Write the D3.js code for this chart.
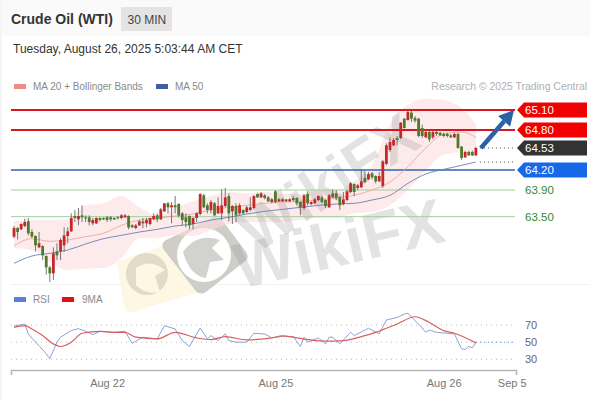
<!DOCTYPE html>
<html><head><meta charset="utf-8">
<script src="https://cdn.jsdelivr.net/npm/d3@7"></script>
<style>html,body{margin:0;padding:0;background:#fff}svg{display:block;font-family:"Liberation Sans",Arial,sans-serif}</style>
</head><body><div id="c"></div>
<script>
const opens=[63.20,63.33,63.31,63.36,63.43,63.27,63.21,63.04,63.06,62.91,62.74,62.65,62.98,62.98,63.07,63.21,63.28,63.51,63.46,63.52,63.49,63.49,63.40,63.40,63.48,63.48,63.49,63.49,63.48,63.49,63.48,63.49,63.51,63.37,63.33,63.37,63.43,63.40,63.39,63.46,63.52,63.46,63.58,63.70,63.64,63.67,63.69,63.55,63.49,63.51,63.39,63.48,63.54,63.82,63.67,63.60,63.70,63.55,63.55,63.66,63.81,63.58,63.66,63.55,63.60,63.57,63.60,63.63,63.84,63.79,63.82,63.79,63.72,63.88,63.73,63.73,63.76,63.73,63.78,63.78,63.72,63.63,63.84,63.69,63.70,63.75,63.79,63.75,63.64,63.85,63.85,63.79,63.69,63.75,63.87,63.99,63.93,63.94,64.08,64.06,64.15,64.11,64.03,63.96,64.29,64.50,64.57,64.68,64.68,64.97,64.95,65.06,64.98,64.97,64.83,64.69,64.77,64.69,64.77,64.76,64.74,64.74,64.72,64.69,64.74,64.55,64.39,64.47,64.47,64.42];
const closes=[63.33,63.27,63.39,63.42,63.25,63.20,63.07,63.10,62.92,62.74,62.65,62.95,62.92,63.15,63.22,63.28,63.48,63.48,63.51,63.49,63.48,63.42,63.45,63.48,63.45,63.46,63.45,63.46,63.46,63.48,63.52,63.52,63.34,63.34,63.37,63.43,63.40,63.45,63.48,63.51,63.46,63.61,63.70,63.64,63.67,63.64,63.52,63.45,63.42,63.37,63.48,63.55,63.84,63.64,63.60,63.72,63.52,63.66,63.67,63.79,63.55,63.66,63.52,63.67,63.55,63.64,63.64,63.81,63.79,63.85,63.78,63.73,63.76,63.72,63.76,63.76,63.73,63.76,63.75,63.70,63.64,63.82,63.70,63.72,63.76,63.81,63.72,63.66,63.82,63.79,63.78,63.67,63.76,63.88,64.00,63.87,63.97,64.03,64.02,64.14,64.09,64.03,64.11,64.33,64.57,64.62,64.65,64.65,64.91,64.83,65.07,64.97,64.94,64.71,64.71,64.77,64.66,64.77,64.74,64.72,64.71,64.71,64.69,64.74,64.53,64.38,64.47,64.42,64.42,64.53];
const highs=[63.36,63.34,63.40,63.47,63.48,63.31,63.22,63.27,63.07,62.92,62.76,63.04,63.10,63.18,63.34,63.34,63.55,63.60,63.63,63.67,63.52,63.52,63.48,63.49,63.49,63.49,63.51,63.51,63.49,63.51,63.54,63.54,63.52,63.39,63.39,63.45,63.48,63.48,63.48,63.55,63.55,63.63,63.70,63.72,63.72,63.81,63.70,63.57,63.55,63.52,63.49,63.57,63.85,63.84,63.70,63.75,63.72,63.79,63.91,63.93,63.85,63.67,63.70,63.70,63.61,63.66,63.79,63.82,63.85,63.87,63.84,63.81,63.78,63.90,63.78,63.78,63.76,63.78,63.81,63.79,63.73,63.84,63.88,63.73,63.78,63.82,63.82,63.76,63.84,63.91,63.90,63.81,63.87,63.90,64.02,64.00,63.99,64.20,64.20,64.17,64.17,64.12,64.17,64.35,64.60,64.69,64.68,64.71,64.92,64.98,65.10,65.09,65.01,64.98,64.88,64.80,64.79,64.79,64.79,64.77,64.76,64.76,64.74,64.76,64.76,64.56,64.49,64.49,64.49,64.55];
const lows=[63.18,63.16,63.30,63.34,63.22,63.18,62.98,63.03,62.85,62.63,62.52,62.55,62.85,62.85,62.97,63.10,63.27,63.42,63.37,63.42,63.42,63.37,63.37,63.39,63.43,63.45,63.42,63.43,63.45,63.46,63.46,63.48,63.31,63.33,63.31,63.36,63.33,63.34,63.37,63.45,63.42,63.45,63.57,63.55,63.40,63.55,63.49,63.37,63.34,63.31,63.31,63.42,63.52,63.63,63.55,63.55,63.51,63.54,63.45,63.64,63.43,63.39,63.42,63.52,63.54,63.55,63.58,63.61,63.78,63.78,63.76,63.72,63.70,63.70,63.72,63.72,63.72,63.72,63.73,63.67,63.52,63.60,63.67,63.67,63.69,63.73,63.70,63.63,63.63,63.78,63.75,63.60,63.67,63.73,63.85,63.81,63.90,63.93,64.00,64.05,64.06,64.00,64.02,63.93,64.27,64.47,64.56,64.57,64.66,64.82,64.94,64.92,64.91,64.69,64.68,64.68,64.62,64.66,64.71,64.71,64.69,64.69,64.68,64.68,64.52,64.35,64.38,64.41,64.41,64.41];

const bandIdx=[0,5,10,15,20,25,30,35,40,45,50,55,60,65,70,75,80,85,90,95,100,105,110,115,120,125,129];
const ma20=[63.06,63.17,63.13,63.15,63.20,63.25,63.37,63.45,63.48,63.51,63.54,63.60,63.64,63.67,63.70,63.72,63.73,63.75,63.78,63.82,63.90,64.02,64.25,64.53,64.74,64.77,64.69];
const ma50=[62.80,62.91,62.95,63.00,63.09,63.17,63.22,63.27,63.31,63.36,63.39,63.45,63.49,63.54,63.58,63.61,63.64,63.67,63.69,63.70,63.75,63.82,64.00,64.14,64.21,64.27,64.32];
const bbUpper=[63.43,63.45,63.45,63.46,63.67,63.70,63.81,63.64,63.52,63.63,63.73,63.81,63.87,63.85,63.87,63.84,63.84,63.90,63.90,64.03,64.27,64.88,65.18,65.27,65.25,65.13,64.88];
const bbLower=[63.03,63.00,62.82,62.70,62.72,62.73,62.88,63.18,63.18,63.22,63.21,63.30,63.39,63.42,63.42,63.42,63.45,63.48,63.48,63.55,63.57,63.67,63.90,64.20,64.43,64.47,64.38];

const rsiIdx=[0,3,4,6,7,9,10,12,13,16,18,20,22,24,28,31,33,36,40,42,45,47,49,52,54,55,57,59,60,62,65,67,70,72,75,78,80,81,82,85,87,88,89,91,94,95,99,102,104,107,109,110,112,114,115,116,118,123,125,126,127,128,129];
const rsiVals=[68.8,71.2,59.6,50,46,36.5,30.8,50,55.8,63.5,65.8,62.7,58.8,62.7,61.5,62.7,48.8,55.8,53.8,69.2,65.4,51.9,45,66.5,53.8,57.7,51.9,59.6,51.9,50,50,60.4,59.6,55,56.9,56.5,45,55.8,50,55,48.1,55.8,55.8,48.1,61.5,57.7,66.2,59.6,75.8,78.8,82.7,83.8,75,66.5,61.5,64.2,61.5,59.6,42.3,41.5,45,43.5,49.2];
const sigIdx=[0,3,5,8,11,13,16,19,24,28,31,34,40,45,51,55,59,65,69,72,75,78,81,87,92,97,101,107,112,116,120,123,129];
const sigVals=[67.3,69.2,65.4,57.7,48,45,50,60.4,62.7,61.5,61.5,55.8,53.8,61.5,55,53,56.5,52.7,53.5,55,57.3,55.8,53.5,51.2,51.9,56.5,61.5,71.2,79.6,73,63.5,60.4,49.2];

const tickIdx=[26,73,120,139];
const tickLabels=["Aug 22","Aug 25","Aug 26","Sep 5"];
const levelVals=[65.10,64.80,64.53,64.20,63.90,63.50];
const levelLabels=["65.10","64.80","64.53","64.20","63.90","63.50"];
const rsiLevels=[70,50,30];

const W=590,H=400;
const svg=d3.select("#c").append("svg").attr("width",W).attr("height",H);
const x=d3.scaleLinear().domain([-0.84,140.2]).range([11,516]);
const y=d3.scaleLinear().domain([65.10,63.50]).range([110,216.67]);
const r=d3.scaleLinear().domain([70,30]).range([325,359.4]);

// header
svg.append("rect").attr("width",W).attr("height",36).attr("fill","#fafafa");
svg.append("rect").attr("x",0).attr("y",0).attr("width",2).attr("height",H).attr("fill","#f5f5f5");
svg.append("text").attr("x",11).attr("y",24).attr("font-size",14).attr("font-weight","bold").attr("fill","#333").text("Crude Oil (WTI)");
svg.append("rect").attr("x",121).attr("y",7).attr("width",51).attr("height",24).attr("fill","#e4e4e4");
svg.append("text").attr("x",127.5).attr("y",24).attr("font-size",12).attr("fill","#444").text("30 MIN");
svg.append("text").attr("x",13).attr("y",53).attr("font-size",12).attr("fill","#333").text("Tuesday, August 26, 2025 5:03:44 AM CET");

// legends
function swatch(xp,yp,c){svg.append("rect").attr("x",xp).attr("y",yp).attr("width",12).attr("height",5).attr("fill",c);}
function ltext(xp,yp,t){svg.append("text").attr("x",xp).attr("y",yp).attr("font-size",10).attr("fill","#8a8a8a").text(t);}
swatch(14,84,"#f08c88");ltext(33,90,"MA 20 + Bollinger Bands");
swatch(156,84,"#3f5f9f");ltext(175,90,"MA 50");
svg.append("text").attr("x",587).attr("y",90).attr("text-anchor","end").attr("font-size",10.45).attr("fill","#b0b0b0").text("Research © 2025 Trading Central");
swatch(14,297,"#5b80d8");ltext(33,303,"RSI");
swatch(62,297,"#e31010");ltext(82,303,"9MA");

// separator
svg.append("line").attr("x1",11).attr("x2",590).attr("y1",284.5).attr("y2",284.5).attr("stroke","#f2f2f2");

// watermark logos
const wm=svg.append("g");
wm.append("path").attr("d","M117,262 L178,240 Q186,238 188,246 L200,292 L132,312 Q126,313 124,306 Z").attr("fill","#fef7e4");
wm.append("circle").attr("cx",147).attr("cy",274).attr("r",21).attr("fill","#c4bfb0").attr("opacity",.5);
wm.append("path").attr("d","M136,268 Q150,258 165,270 L155,276 L160,292 Q145,295 136,285 Z").attr("fill","#fef7e4");
wm.append("path").attr("d","M166,240 L212,218 Q218,215 222,220 L246,252 Q250,258 244,262 L206,292 Q200,296 195,290 L164,250 Q160,244 166,240 Z").attr("fill","#cfcdc8");
wm.append("circle").attr("cx",204).attr("cy",255).attr("r",27).attr("fill","#fff");
wm.append("path").attr("d","M183,252 Q197,232 220,240 L212,248 L224,260 L210,262 L206,278 Q190,276 183,252 Z").attr("fill","#d2d2cf");

// bollinger band
const pts=d3.range(bandIdx.length);
const bandCurve=d3.curveMonotoneX;
svg.append("path").attr("fill","#fbdcdc").attr("fill-opacity",.6)
 .attr("d",d3.area().x(i=>x(bandIdx[i])).y0(i=>y(bbLower[i])).y1(i=>y(bbUpper[i])).curve(bandCurve)(pts));

// watermark text
const wt=svg.append("g").attr("font-weight","bold").attr("font-family",'"Liberation Sans",Arial,sans-serif').attr("fill","#8a8a8a").attr("fill-opacity",.24);
wt.append("text").attr("transform","translate(256,254) rotate(-33)").attr("font-size",60).text("WikiFX");
wt.append("text").attr("transform","translate(240,289) rotate(-13)").attr("font-size",64).text("WikiFX");

// levels
const lc=[["#d8161c",2],["#d8161c",2],null,["#2f62b5",1.3],["#a0cfa0",1],["#a0cfa0",1]];
levelVals.forEach((v,i)=>{ if(!lc[i])return;
  svg.append("line").attr("x1",11).attr("x2",515).attr("y1",y(v)).attr("y2",y(v)).attr("stroke",lc[i][0]).attr("stroke-width",lc[i][1]);
});

// MA lines
const lineOf=a=>d3.line().x(i=>x(bandIdx[i])).y(i=>y(a[i])).curve(d3.curveMonotoneX)(pts);
svg.append("path").attr("d",lineOf(ma20)).attr("fill","none").attr("stroke","#f0a5a1").attr("stroke-width",.9);
svg.append("path").attr("d",lineOf(ma50)).attr("fill","none").attr("stroke","#6a80b5").attr("stroke-width",.9);

// candles
const cg=svg.append("g");
opens.forEach((o,i)=>{
  const c=closes[i],up=c>=o,col=up?"#c5282a":"#4d7a2c";
  cg.append("line").attr("x1",x(i)).attr("x2",x(i)).attr("y1",y(highs[i])).attr("y2",y(lows[i])).attr("stroke","#6a6a64").attr("stroke-width",.9);
  cg.append("rect").attr("x",x(i)-1.4).attr("width",2.8).attr("y",y(Math.max(o,c))).attr("height",Math.max(1,Math.abs(y(o)-y(c)))).attr("fill",col);
});

// dotted connectors
const last=opens.length-1;
svg.append("line").attr("x1",x(last)+4).attr("x2",515).attr("y1",y(closes[last])).attr("y2",y(closes[last])).attr("stroke","#444").attr("stroke-dasharray","1 3");
svg.append("line").attr("x1",x(last)+4).attr("x2",515).attr("y1",y(ma50[ma50.length-1])).attr("y2",y(ma50[ma50.length-1])).attr("stroke","#444").attr("stroke-dasharray","1 3");

// arrow
const ax0=x(last)+5,ay0=y(closes[last]),ax1=514,ay1=y(levelVals[0]);
const ang=Math.atan2(ay1-ay0,ax1-ax0);
const hb=[ax1-15*Math.cos(ang),ay1-15*Math.sin(ang)];
svg.append("line").attr("x1",ax0).attr("y1",ay0).attr("x2",hb[0]).attr("y2",hb[1]).attr("stroke","#2a62a5").attr("stroke-width",4.5);
svg.append("path").attr("fill","#2a62a5").attr("d",`M${ax1},${ay1}L${hb[0]-8*Math.sin(ang)},${hb[1]+8*Math.cos(ang)}L${hb[0]+8*Math.sin(ang)},${hb[1]-8*Math.cos(ang)}Z`);

// price tags
const tagCol=["#f00000","#f00000","#333333","#1768e8",null,null];
levelVals.forEach((v,i)=>{
  const yy=y(v);
  if(tagCol[i]) svg.append("path").attr("fill",tagCol[i]).attr("d",`M517,${yy}L524,${yy-7.5}H587V${yy+7.5}H524Z`);
  svg.append("text").attr("x",525).attr("y",yy+4.2).attr("font-size",11.5).attr("fill",tagCol[i]?"#fff":"#2f8a2f").text(levelLabels[i]);
});

// RSI panel
rsiLevels.forEach(v=>{
  svg.append("line").attr("x1",11).attr("x2",516).attr("y1",r(v)).attr("y2",r(v)).attr("stroke","#bdbdbd").attr("stroke-dasharray","1 4");
  svg.append("text").attr("x",525).attr("y",r(v)+4).attr("font-size",11).attr("fill","#666").text(v);
});
svg.append("line").attr("x1",x(129)).attr("x2",516).attr("y1",r(50)).attr("y2",r(50)).attr("stroke","#5b80d8").attr("stroke-dasharray","1 3");
svg.append("path").attr("fill","none").attr("stroke","#7f97cf").attr("stroke-width",.9)
 .attr("d",d3.line().x((d,i)=>x(rsiIdx[i])).y(d=>r(d))(rsiVals));
svg.append("path").attr("fill","none").attr("stroke","#d8605e").attr("stroke-width",1.2)
 .attr("d",d3.line().x((d,i)=>x(sigIdx[i])).y(d=>r(d)).curve(d3.curveMonotoneX)(sigVals));

// time axis
const axis=d3.axisBottom(x).tickValues(tickIdx).tickFormat((d,i)=>tickLabels[i]).tickSizeInner(0).tickSizeOuter(5).tickPadding(9);
const ag=svg.append("g").attr("transform","translate(0,370)").call(axis);
ag.select(".domain").attr("stroke","#b8b8b8").attr("stroke-width",1.6).attr("fill","none");
ag.selectAll("text").attr("font-size",11).attr("font-family",'"Liberation Sans",Arial,sans-serif').attr("fill","#777");
</script></body></html>
